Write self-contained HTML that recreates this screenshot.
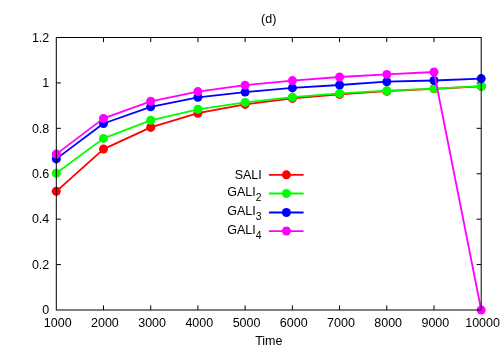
<!DOCTYPE html>
<html><head><meta charset="utf-8"><title>(d)</title>
<style>
html,body{margin:0;padding:0;background:#fff;}
body{width:500px;height:350px;overflow:hidden;}
svg{display:block;will-change:transform;}
text{font-family:"Liberation Sans",sans-serif;font-size:12.5px;fill:#000;}
</style></head>
<body>
<svg width="500" height="350" viewBox="0 0 500 350">
<rect x="0" y="0" width="500" height="350" fill="#fff"/>
<path d="M103.51,310.0v-4.6M103.51,37.5v4.6M150.72,310.0v-4.6M150.72,37.5v4.6M197.93,310.0v-4.6M197.93,37.5v4.6M245.14,310.0v-4.6M245.14,37.5v4.6M292.36,310.0v-4.6M292.36,37.5v4.6M339.57,310.0v-4.6M339.57,37.5v4.6M386.78,310.0v-4.6M386.78,37.5v4.6M433.99,310.0v-4.6M433.99,37.5v4.6M56.3,264.58h4.6M481.2,264.58h-4.6M56.3,219.17h4.6M481.2,219.17h-4.6M56.3,173.75h4.6M481.2,173.75h-4.6M56.3,128.33h4.6M481.2,128.33h-4.6M56.3,82.92h4.6M481.2,82.92h-4.6" stroke="#000" stroke-width="1" fill="none"/>
<polyline points="56.3,191.3 103.5,149.1 150.7,127.4 197.9,113.2 245.1,104.4 292.4,98.4 339.6,94.4 386.8,91.2 434.0,88.8 481.2,86.3" fill="none" stroke="#ff0000" stroke-width="1.8" stroke-linejoin="round"/>
<circle cx="56.3" cy="191.3" r="4.5" fill="#ff0000"/>
<circle cx="103.5" cy="149.1" r="4.5" fill="#ff0000"/>
<circle cx="150.7" cy="127.4" r="4.5" fill="#ff0000"/>
<circle cx="197.9" cy="113.2" r="4.5" fill="#ff0000"/>
<circle cx="245.1" cy="104.4" r="4.5" fill="#ff0000"/>
<circle cx="292.4" cy="98.4" r="4.5" fill="#ff0000"/>
<circle cx="339.6" cy="94.4" r="4.5" fill="#ff0000"/>
<circle cx="386.8" cy="91.2" r="4.5" fill="#ff0000"/>
<circle cx="434.0" cy="88.8" r="4.5" fill="#ff0000"/>
<circle cx="481.2" cy="86.3" r="4.5" fill="#ff0000"/>
<polyline points="56.3,173.3 103.5,138.4 150.7,120.3 197.9,109.3 245.1,102.4 292.4,97.2 339.6,93.4 386.8,90.7 434.0,88.6 481.2,86.2" fill="none" stroke="#00ff00" stroke-width="1.8" stroke-linejoin="round"/>
<circle cx="56.3" cy="173.3" r="4.5" fill="#00ff00"/>
<circle cx="103.5" cy="138.4" r="4.5" fill="#00ff00"/>
<circle cx="150.7" cy="120.3" r="4.5" fill="#00ff00"/>
<circle cx="197.9" cy="109.3" r="4.5" fill="#00ff00"/>
<circle cx="245.1" cy="102.4" r="4.5" fill="#00ff00"/>
<circle cx="292.4" cy="97.2" r="4.5" fill="#00ff00"/>
<circle cx="339.6" cy="93.4" r="4.5" fill="#00ff00"/>
<circle cx="386.8" cy="90.7" r="4.5" fill="#00ff00"/>
<circle cx="434.0" cy="88.6" r="4.5" fill="#00ff00"/>
<circle cx="481.2" cy="86.2" r="4.5" fill="#00ff00"/>
<polyline points="56.3,158.9 103.5,123.5 150.7,106.8 197.9,97.3 245.1,92.1 292.4,87.9 339.6,85.0 386.8,81.7 434.0,80.5 481.2,78.6" fill="none" stroke="#0000ff" stroke-width="1.8" stroke-linejoin="round"/>
<circle cx="56.3" cy="158.9" r="4.5" fill="#0000ff"/>
<circle cx="103.5" cy="123.5" r="4.5" fill="#0000ff"/>
<circle cx="150.7" cy="106.8" r="4.5" fill="#0000ff"/>
<circle cx="197.9" cy="97.3" r="4.5" fill="#0000ff"/>
<circle cx="245.1" cy="92.1" r="4.5" fill="#0000ff"/>
<circle cx="292.4" cy="87.9" r="4.5" fill="#0000ff"/>
<circle cx="339.6" cy="85.0" r="4.5" fill="#0000ff"/>
<circle cx="386.8" cy="81.7" r="4.5" fill="#0000ff"/>
<circle cx="434.0" cy="80.5" r="4.5" fill="#0000ff"/>
<circle cx="481.2" cy="78.6" r="4.5" fill="#0000ff"/>
<polyline points="56.3,154.1 103.5,118.4 150.7,101.3 197.9,91.6 245.1,85.2 292.4,80.6 339.6,77.0 386.8,74.4 434.0,72.0 481.2,310.0" fill="none" stroke="#ff00ff" stroke-width="1.8" stroke-linejoin="round"/>
<circle cx="56.3" cy="154.1" r="4.5" fill="#ff00ff"/>
<circle cx="103.5" cy="118.4" r="4.5" fill="#ff00ff"/>
<circle cx="150.7" cy="101.3" r="4.5" fill="#ff00ff"/>
<circle cx="197.9" cy="91.6" r="4.5" fill="#ff00ff"/>
<circle cx="245.1" cy="85.2" r="4.5" fill="#ff00ff"/>
<circle cx="292.4" cy="80.6" r="4.5" fill="#ff00ff"/>
<circle cx="339.6" cy="77.0" r="4.5" fill="#ff00ff"/>
<circle cx="386.8" cy="74.4" r="4.5" fill="#ff00ff"/>
<circle cx="434.0" cy="72.0" r="4.5" fill="#ff00ff"/>
<circle cx="481.2" cy="310.0" r="4.5" fill="#ff00ff"/>
<line x1="268.9" y1="174.85" x2="303.6" y2="174.85" stroke="#ff0000" stroke-width="1.8"/>
<circle cx="286.4" cy="174.85" r="4.5" fill="#ff0000"/>
<line x1="268.9" y1="193.5" x2="303.6" y2="193.5" stroke="#00ff00" stroke-width="1.8"/>
<circle cx="286.4" cy="193.5" r="4.5" fill="#00ff00"/>
<line x1="268.9" y1="212.5" x2="303.6" y2="212.5" stroke="#0000ff" stroke-width="1.8"/>
<circle cx="286.4" cy="212.5" r="4.5" fill="#0000ff"/>
<line x1="268.9" y1="231.05" x2="303.6" y2="231.05" stroke="#ff00ff" stroke-width="1.8"/>
<circle cx="286.4" cy="231.05" r="4.5" fill="#ff00ff"/>
<rect x="56.3" y="37.5" width="424.90" height="272.50" fill="none" stroke="#000" stroke-width="1"/>
<text x="49.3" y="314.20" text-anchor="end">0</text>
<text x="49.3" y="268.78" text-anchor="end">0.2</text>
<text x="49.3" y="223.37" text-anchor="end">0.4</text>
<text x="49.3" y="177.95" text-anchor="end">0.6</text>
<text x="49.3" y="132.53" text-anchor="end">0.8</text>
<text x="49.3" y="87.12" text-anchor="end">1</text>
<text x="49.3" y="41.70" text-anchor="end">1.2</text>
<text x="57.70" y="326.5" text-anchor="middle">1000</text>
<text x="104.91" y="326.5" text-anchor="middle">2000</text>
<text x="152.12" y="326.5" text-anchor="middle">3000</text>
<text x="199.33" y="326.5" text-anchor="middle">4000</text>
<text x="246.54" y="326.5" text-anchor="middle">5000</text>
<text x="293.76" y="326.5" text-anchor="middle">6000</text>
<text x="340.97" y="326.5" text-anchor="middle">7000</text>
<text x="388.18" y="326.5" text-anchor="middle">8000</text>
<text x="435.39" y="326.5" text-anchor="middle">9000</text>
<text x="482.60" y="326.5" text-anchor="middle">10000</text>
<text x="268.8" y="345.2" text-anchor="middle">Time</text>
<text x="268.7" y="22.5" text-anchor="middle">(d)</text>
<text x="261.8" y="178.6" text-anchor="end">SALI</text>
<text x="261.6" y="196.0" text-anchor="end" font-size="12.1">GALI<tspan font-size="10.4" dy="5.3">2</tspan></text>
<text x="261.6" y="215.0" text-anchor="end" font-size="12.1">GALI<tspan font-size="10.4" dy="5.3">3</tspan></text>
<text x="261.6" y="233.6" text-anchor="end" font-size="12.1">GALI<tspan font-size="10.4" dy="5.3">4</tspan></text>
</svg>
</body></html>
